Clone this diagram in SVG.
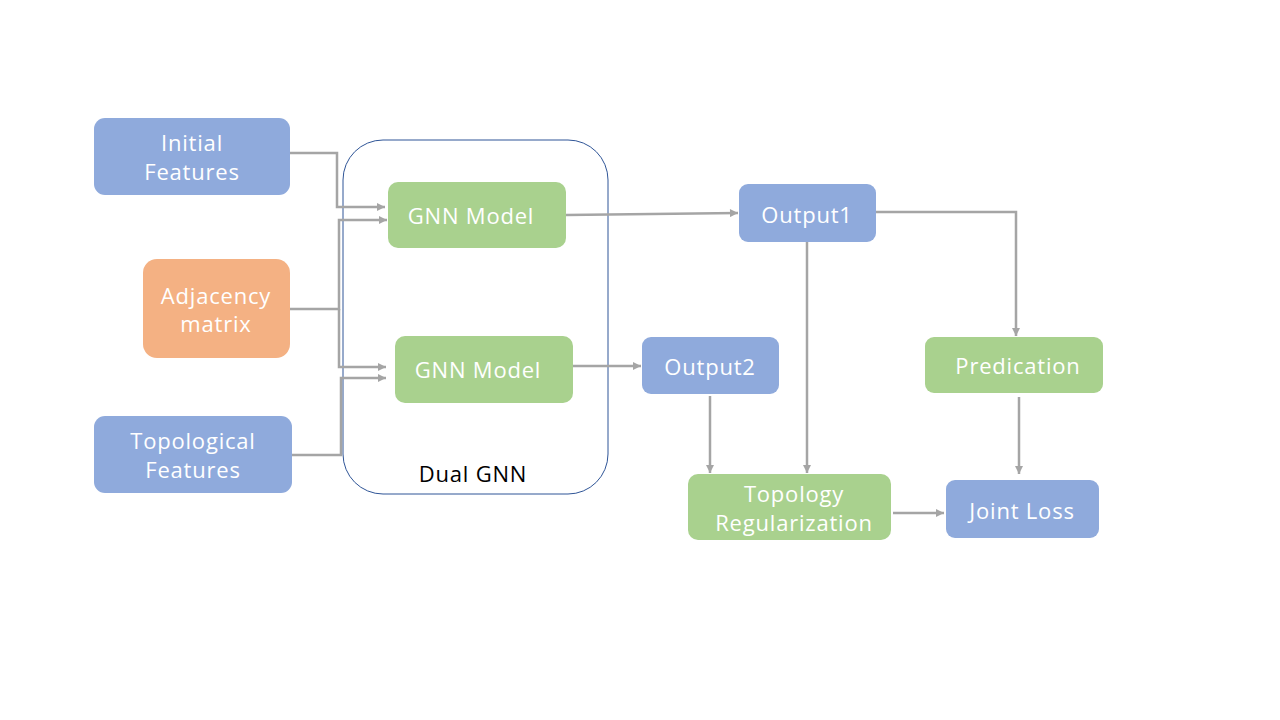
<svg xmlns="http://www.w3.org/2000/svg" width="1280" height="720" viewBox="0 0 1280 720">
<style>
.blue{fill:#8FAADC}
.green{fill:#A9D18E}
.orange{fill:#F4B183}
.t{font-family:"Open Sans","Noto Sans",sans-serif;font-size:22px;letter-spacing:0.8px;fill:#fff;text-anchor:middle;dominant-baseline:central}
.k{font-family:"Open Sans","Noto Sans",sans-serif;font-size:22px;letter-spacing:0.8px;fill:#000;text-anchor:middle;dominant-baseline:central}
.c{fill:none;stroke:#A5A5A5;stroke-width:2.5}
</style>
<defs>
<marker id="a" viewBox="0 0 10 10" refX="10" refY="5" markerWidth="10" markerHeight="8" markerUnits="userSpaceOnUse" orient="auto">
<path d="M0,0 L10,5 L0,10 z" fill="#A5A5A5"/>
</marker>
</defs>
<rect width="1280" height="720" fill="#fff"/>
<g id="dual-gnn">
<rect x="343" y="140" width="265" height="354" rx="40" fill="none" stroke="#2F5597" stroke-width="1"/>
<text class="k" x="473" y="473">Dual GNN</text>
</g>
<g id="connectors">
<path class="c" d="M290,153 H337 V207 H385" marker-end="url(#a)"/>
<path class="c" d="M290,309 H339 V220 H387" marker-end="url(#a)"/>
<path class="c" d="M339,309 V367 H386" marker-end="url(#a)"/>
<path class="c" d="M292,455 H341 V378 H386" marker-end="url(#a)"/>
<path class="c" d="M566,215 L738,213" marker-end="url(#a)"/>
<path class="c" d="M573,366 H641" marker-end="url(#a)"/>
<path class="c" d="M876,212 H1016 V336" marker-end="url(#a)"/>
<path class="c" d="M807,242 V473" marker-end="url(#a)"/>
<path class="c" d="M710,396 V473" marker-end="url(#a)"/>
<path class="c" d="M1019,397 V474" marker-end="url(#a)"/>
<path class="c" d="M893,513 H944" marker-end="url(#a)"/>
</g>
<g id="initial-features">
<rect class="blue" x="94" y="118" width="196" height="77" rx="11"/>
<text class="t" x="192" y="142">Initial</text>
<text class="t" x="192" y="171">Features</text>
</g>
<g id="adjacency-matrix">
<rect class="orange" x="143" y="259" width="147" height="99" rx="14"/>
<text class="t" x="216" y="295">Adjacency</text>
<text class="t" x="216" y="323">matrix</text>
</g>
<g id="topological-features">
<rect class="blue" x="94" y="416" width="198" height="77" rx="11"/>
<text class="t" x="193" y="440">Topological</text>
<text class="t" x="193" y="469">Features</text>
</g>
<g id="gnn-model-1">
<rect class="green" x="388" y="182" width="178" height="66" rx="10"/>
<text class="t" x="471" y="215">GNN Model</text>
</g>
<g id="gnn-model-2">
<rect class="green" x="395" y="336" width="178" height="67" rx="10"/>
<text class="t" x="478" y="369">GNN Model</text>
</g>
<g id="output1">
<rect class="blue" x="739" y="184" width="137" height="58" rx="9"/>
<text class="t" x="807" y="214">Output1</text>
</g>
<g id="output2">
<rect class="blue" x="642" y="337" width="137" height="57" rx="9"/>
<text class="t" x="710" y="366">Output2</text>
</g>
<g id="predication">
<rect class="green" x="925" y="337" width="178" height="56" rx="9"/>
<text class="t" x="1018" y="365">Predication</text>
</g>
<g id="topology-regularization">
<rect class="green" x="688" y="474" width="203" height="66" rx="10"/>
<text class="t" x="794" y="493">Topology</text>
<text class="t" x="794" y="522">Regularization</text>
</g>
<g id="joint-loss">
<rect class="blue" x="946" y="480" width="153" height="58" rx="9"/>
<text class="t" x="1022" y="510">Joint Loss</text>
</g>
</svg>
